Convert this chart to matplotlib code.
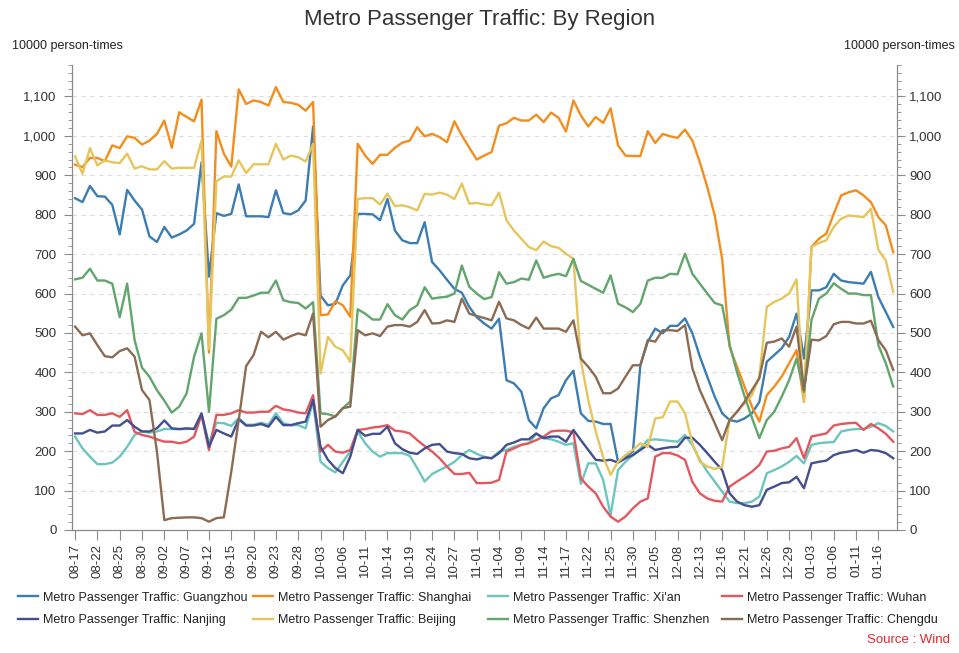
import matplotlib
matplotlib.use("Agg")
import matplotlib.pyplot as plt
from matplotlib.ticker import MultipleLocator, FuncFormatter

plt.rcParams['font.family'] = ['Liberation Sans', 'DejaVu Sans']

title = "Metro Passenger Traffic: By Region"
unit = "10000 person-times"
source = "Source : Wind"

tick_labels = ["08-17", "08-22", "08-25", "08-30", "09-02", "09-07", "09-12", "09-15",
               "09-20", "09-23", "09-28", "10-03", "10-06", "10-11", "10-14", "10-19",
               "10-24", "10-27", "11-01", "11-04", "11-09", "11-14", "11-17", "11-22",
               "11-25", "11-30", "12-05", "12-08", "12-13", "12-16", "12-21", "12-26",
               "12-29", "01-03", "01-06", "01-11", "01-16"]

guangzhou = [842, 832, 873, 847, 846, 825, 750, 863, 836, 813, 745, 731, 769, 742, 750, 760, 777, 933, 643, 804,
             797, 802, 877, 796, 796, 796, 794, 862,
             804, 801, 811, 836, 1024, 595, 570, 574, 621, 646, 802, 802, 801, 786, 840, 760, 735, 728, 728, 781,
             680, 659, 635, 612, 602, 566, 540, 524,
             511, 536, 380, 372, 351, 279, 258, 309, 334, 342, 380, 404, 296, 277, 275, 269, 269, 173, 186, 199,
             418, 478, 511, 499, 518, 518, 537,
             499, 440, 389, 338, 296, 279, 275, 283, 296, 325, 427, 444, 461, 490, 549, 435, 608, 608, 616, 650,
             633, 629, 627, 625, 655, 591, 553, 515]
shanghai = [927, 921, 944, 944, 936, 976, 969, 999, 995, 978, 988, 1005, 1039, 970, 1060, 1048, 1037, 1092, 450, 1012,
            955, 922, 1118, 1081, 1090, 1086, 1077, 1124,
            1086, 1084, 1079, 1064, 1086, 545, 547, 581, 570, 541, 980, 950, 929, 952, 952, 970, 983, 988, 1022, 999,
            1005, 997, 984, 1037, 1001, 970, 940, 950,
            959, 1026, 1032, 1046, 1039, 1039, 1054, 1035, 1059, 1046, 1011, 1090, 1052, 1024, 1048, 1033, 1070, 976,
            950, 949, 949, 1012, 982, 1005, 999, 995, 1016,
            988, 933, 870, 798, 688, 465, 414, 364, 313, 275, 342, 364, 389, 423, 456, 325, 718, 739, 752, 802,
            849, 857, 862, 849, 832, 794, 773, 705]
xian = [237, 207, 186, 167, 167, 171, 186, 211, 241, 250, 247, 250, 256, 256, 256, 256, 258, 294, 220, 272,
        271, 264, 284, 267, 267, 272, 267, 296,
        271, 266, 266, 258, 326, 173, 157, 146, 173, 199, 250, 220, 199, 186, 195, 195, 195, 188, 157, 123,
        142, 152, 161, 173, 190, 203, 193, 186,
        182, 199, 203, 211, 216, 220, 244, 233, 230, 224, 216, 220, 117, 169, 169, 127, 38, 152, 173, 190,
        207, 228, 230, 228, 226, 224, 241,
        215, 178, 148, 123, 97, 72, 68, 68, 72, 85, 144, 152, 161, 173, 188, 169, 216, 220, 222, 223,
        250, 254, 256, 256, 262, 271, 264, 250]
wuhan = [296, 294, 304, 292, 292, 296, 287, 304, 249, 241, 237, 230, 224, 224, 220, 224, 237, 292, 203, 292,
         292, 296, 304, 298, 298, 300, 300, 315,
         306, 303, 298, 296, 342, 199, 216, 199, 196, 203, 254, 256, 260, 262, 266, 252, 250, 245, 228, 213,
         199, 182, 161, 142, 142, 145, 119, 119,
         120, 127, 199, 207, 216, 220, 228, 237, 250, 252, 252, 248, 131, 110, 93, 59, 34, 21, 34, 55,
         72, 80, 186, 195, 195, 189, 178,
         122, 93, 80, 74, 72, 110, 123, 135, 148, 165, 199, 201, 207, 211, 233, 182, 237, 241, 245, 265,
         269, 271, 272, 254, 269, 258, 244, 224]
nanjing = [245, 245, 254, 247, 250, 265, 265, 279, 262, 250, 250, 258, 278, 258, 256, 258, 256, 296, 211, 254,
           245, 237, 281, 265, 265, 269, 262, 287,
           266, 266, 271, 275, 330, 211, 178, 157, 144, 186, 254, 239, 244, 244, 262, 220, 205, 196, 193, 207,
           216, 218, 199, 195, 193, 182, 179, 184,
           182, 195, 216, 222, 230, 230, 245, 233, 237, 237, 224, 254, 228, 203, 178, 176, 178, 171, 182, 190,
           203, 216, 203, 207, 210, 211, 234,
           234, 216, 195, 173, 152, 93, 72, 63, 59, 63, 102, 110, 119, 121, 135, 106, 169, 173, 176, 190,
           196, 199, 203, 196, 203, 201, 195, 182]
beijing = [948, 904, 969, 925, 938, 933, 931, 955, 917, 923, 915, 915, 936, 917, 919, 919, 919, 988, 460, 885,
           897, 897, 938, 906, 928, 928, 928, 980,
           940, 950, 946, 935, 980, 397, 490, 465, 456, 427, 840, 842, 842, 826, 853, 822, 824, 819, 811, 853,
           851, 856, 851, 840, 879, 828, 830, 826,
           824, 856, 786, 760, 739, 718, 710, 732, 720, 716, 701, 688, 430, 330, 250, 185, 140, 173, 190, 203,
           220, 211, 283, 286, 326, 326, 296,
           220, 173, 161, 155, 160, 279, 300, 321, 342, 389, 566, 579, 587, 600, 636, 326, 718, 728, 735, 769,
           790, 798, 796, 794, 815, 711, 684, 604]
shenzhen = [636, 640, 663, 633, 633, 625, 540, 625, 482, 412, 389, 355, 328, 298, 313, 347, 440, 499, 300, 536,
            545, 559, 589, 589, 595, 602, 602, 633,
            583, 578, 576, 562, 578, 296, 294, 288, 309, 326, 560, 549, 534, 534, 573, 545, 534, 558, 570, 616,
            587, 590, 592, 600, 671, 617, 600, 586,
            591, 654, 625, 629, 638, 635, 684, 640, 646, 650, 644, 688, 632, 622, 612, 602, 646, 574, 565, 553,
            574, 633, 640, 640, 650, 649, 701,
            650, 625, 600, 576, 570, 470, 400, 340, 285, 233, 279, 300, 338, 380, 435, 350, 532, 587, 600, 626,
            612, 600, 600, 596, 596, 469, 423, 364]
chengdu = [516, 494, 499, 469, 441, 438, 454, 461, 440, 355, 330, 200, 25, 30, 31, 32, 32, 30, 21, 30,
           32, 148, 279, 416, 444, 503, 489, 503,
           483, 492, 499, 494, 549, 262, 279, 288, 309, 313, 507, 494, 499, 492, 516, 520, 520, 516, 528, 558,
           524, 525, 532, 528, 587, 549, 543, 538,
           532, 579, 537, 532, 520, 511, 539, 511, 511, 511, 503, 532, 435, 414, 389, 347, 347, 359, 389, 418,
           418, 482, 478, 507, 507, 505, 520,
           410, 355, 313, 271, 228, 279, 300, 325, 355, 385, 475, 478, 486, 465, 516, 355, 483, 481, 492, 522,
           528, 528, 524, 524, 531, 482, 456, 406]

series_names = ["Metro Passenger Traffic: Guangzhou", "Metro Passenger Traffic: Shanghai",
                "Metro Passenger Traffic: Xi'an", "Metro Passenger Traffic: Wuhan",
                "Metro Passenger Traffic: Nanjing", "Metro Passenger Traffic: Beijing",
                "Metro Passenger Traffic: Shenzhen", "Metro Passenger Traffic: Chengdu"]
series_values = [guangzhou, shanghai, xian, wuhan, nanjing, beijing, shenzhen, chengdu]
colors = ["#3b7db3", "#f28e1e", "#6cc6c0", "#e2585f", "#434f8e", "#e6c55c", "#62a56d", "#8c6b53"]

n = len(guangzhou)
xs = list(range(n))

fig = plt.figure(figsize=(9.59, 6.53), dpi=100)
ax = fig.add_axes([0.0748, 0.1884, 0.8605, 0.7121])

lines = []
for name, vals, c in zip(series_names, series_values, colors):
    ln, = ax.plot(xs, vals, color=c, lw=1.7, label=name, solid_joinstyle='round')
    lines.append(ln)

ymax = 1180
ax.set_xlim(-0.45, n - 1 + 0.5)
ax.set_ylim(0, ymax)
fmt = FuncFormatter(lambda v, p: f"{v:,.0f}")
ax.yaxis.set_major_locator(MultipleLocator(100))
ax.yaxis.set_minor_locator(MultipleLocator(20))
ax.yaxis.set_major_formatter(fmt)
ax.yaxis.grid(True, which='major', linestyle=(0, (4, 4)), color='#dddddd', lw=0.8)
ax.set_axisbelow(True)

ax.set_xticks(range(0, n, 3))
ax.set_xticklabels(tick_labels, rotation=90)

spine_c = '#8a8a8a'
for s in ['left', 'right', 'bottom']:
    ax.spines[s].set_color(spine_c)
ax.spines['top'].set_visible(False)

ax.tick_params(axis='y', which='major', length=6, color=spine_c, labelsize=9.5, labelcolor='#333333', pad=5)
ax.tick_params(axis='y', which='minor', length=3, color=spine_c)
ax.tick_params(axis='x', which='major', length=7, color=spine_c, labelsize=9.5, labelcolor='#333333', pad=3)

ax2 = ax.twinx()
ax2.set_ylim(0, ymax)
ax2.yaxis.set_major_locator(MultipleLocator(100))
ax2.yaxis.set_minor_locator(MultipleLocator(20))
ax2.yaxis.set_major_formatter(fmt)
for s in ['left', 'right', 'bottom']:
    ax2.spines[s].set_color(spine_c)
ax2.spines['top'].set_visible(False)
ax2.tick_params(axis='y', which='major', length=6, color=spine_c, labelsize=9.5, labelcolor='#333333', pad=3)
ax2.tick_params(axis='y', which='minor', length=3, color=spine_c)

fig.text(0.5, 1 - 20 / 653, title, ha='center', va='center', fontsize=16, color='#333333')
fig.text(0.0125, 1 - 46 / 653, unit, ha='left', va='center', fontsize=9, color='#222222')
fig.text(0.996, 1 - 46 / 653, unit, ha='right', va='center', fontsize=9, color='#222222')

col_x = [18 / 959, 253 / 959, 488 / 959, 722 / 959]
for k in range(4):
    hs = [lines[k], lines[k + 4]]
    leg = fig.legend(hs, [h.get_label() for h in hs], loc='center left',
                     bbox_to_anchor=(col_x[k], 1 - 609 / 653), frameon=False,
                     fontsize=9, handlelength=1.6, handletextpad=0.4, labelspacing=0.85,
                     borderpad=0, borderaxespad=0)
    for t in leg.get_texts():
        t.set_color('#222222')

fig.text(0.991, 1 - 640 / 653, source, ha='right', va='center', fontsize=9.5, color='#e8262a')

fig.savefig("out.png", dpi=100)
